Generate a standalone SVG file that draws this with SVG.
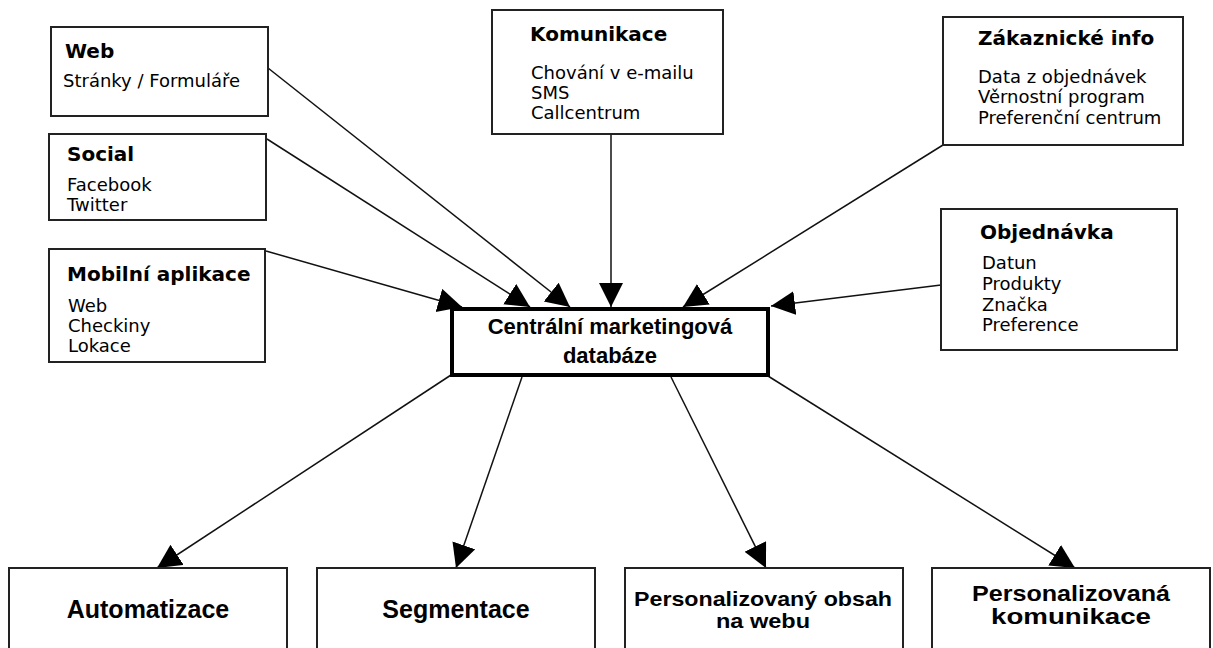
<svg xmlns="http://www.w3.org/2000/svg" width="1213" height="648" viewBox="0 0 1213 648">
<defs>
<style>
.box{fill:#fff;stroke:#222;stroke-width:2}
.cbox{fill:#fff;stroke:#000;stroke-width:4}
.ttl{font-family:"DejaVu Sans",sans-serif;font-weight:bold;font-size:20px;fill:#000}
.itm{font-family:"DejaVu Sans",sans-serif;font-size:18px;fill:#000}
.big{font-family:"Liberation Sans",Arial,sans-serif;font-weight:bold;fill:#000;text-anchor:middle}
.con line{stroke:#111;stroke-width:1.5;marker-end:url(#ah)}
</style>
<marker id="ah" markerUnits="userSpaceOnUse" markerWidth="26" markerHeight="26" refX="24" refY="12" orient="auto">
<path d="M0,0 L24,12 L0,24 z" fill="#000"/>
</marker>
</defs>
<rect width="1213" height="648" fill="#fff"/>
<g class="con" id="connectors">
<line x1="268" y1="68" x2="570" y2="307"/>
<line x1="267" y1="139" x2="530" y2="307"/>
<line x1="266" y1="251" x2="462" y2="307"/>
<line x1="611" y1="134" x2="611" y2="307"/>
<line x1="943" y1="145" x2="683" y2="307"/>
<line x1="941" y1="285" x2="771" y2="306"/>
<line x1="451" y1="375" x2="157" y2="568"/>
<line x1="522" y1="377" x2="456" y2="568"/>
<line x1="671" y1="377" x2="766" y2="568"/>
<line x1="768" y1="376" x2="1075" y2="568"/>
</g>
<g id="web">
<rect class="box" x="51" y="27" width="217" height="89"/>
<text class="ttl" x="65" y="58">Web</text>
<text class="itm" x="63" y="87">Stránky / Formuláře</text>
</g>
<g id="social">
<rect class="box" x="49" y="134" width="217" height="86"/>
<text class="ttl" x="67" y="161">Social</text>
<text class="itm" x="67" y="191">Facebook</text>
<text class="itm" x="67" y="211">Twitter</text>
</g>
<g id="mobil">
<rect class="box" x="49" y="249" width="216" height="113"/>
<text class="ttl" x="67" y="281">Mobilní aplikace</text>
<text class="itm" x="68" y="312">Web</text>
<text class="itm" x="68" y="332">Checkiny</text>
<text class="itm" x="68" y="352">Lokace</text>
</g>
<g id="komunikace">
<rect class="box" x="492" y="10" width="231" height="124"/>
<text class="ttl" x="530" y="41">Komunikace</text>
<text class="itm" x="531" y="79">Chování v e-mailu</text>
<text class="itm" x="531" y="99">SMS</text>
<text class="itm" x="531" y="119">Callcentrum</text>
</g>
<g id="zakaznicke">
<rect class="box" x="943" y="17" width="240" height="128"/>
<text class="ttl" x="978" y="45">Zákaznické info</text>
<text class="itm" x="978" y="83">Data z objednávek</text>
<text class="itm" x="978" y="103">Věrnostní program</text>
<text class="itm" x="978" y="124">Preferenční centrum</text>
</g>
<g id="objednavka">
<rect class="box" x="941" y="209" width="236" height="141"/>
<text class="ttl" x="980" y="239">Objednávka</text>
<text class="itm" x="982" y="269">Datun</text>
<text class="itm" x="982" y="290">Produkty</text>
<text class="itm" x="982" y="311">Značka</text>
<text class="itm" x="982" y="331">Preference</text>
</g>
<g id="centralni">
<rect class="cbox" x="452" y="309" width="316" height="66"/>
<text class="big" x="610" y="334" font-size="22">Centrální marketingová</text>
<text class="big" x="610" y="363" font-size="22">databáze</text>
</g>
<g id="automatizace">
<rect class="box" x="9" y="568" width="278" height="100"/>
<text class="big" x="148" y="618" font-size="25">Automatizace</text>
</g>
<g id="segmentace">
<rect class="box" x="317" y="568" width="278" height="100"/>
<text class="big" x="456" y="618" font-size="25">Segmentace</text>
</g>
<g id="obsah">
<rect class="box" x="625" y="568" width="278" height="100"/>
<text class="big" x="763" y="606" font-size="21" textLength="258" lengthAdjust="spacingAndGlyphs">Personalizovaný obsah</text>
<text class="big" x="763" y="628" font-size="21" textLength="94" lengthAdjust="spacingAndGlyphs">na webu</text>
</g>
<g id="komunikace2">
<rect class="box" x="932" y="568" width="278" height="100"/>
<text class="big" x="1071" y="601" font-size="22" textLength="198" lengthAdjust="spacingAndGlyphs">Personalizovaná</text>
<text class="big" x="1071" y="624" font-size="22" textLength="160" lengthAdjust="spacingAndGlyphs">komunikace</text>
</g>
</svg>
